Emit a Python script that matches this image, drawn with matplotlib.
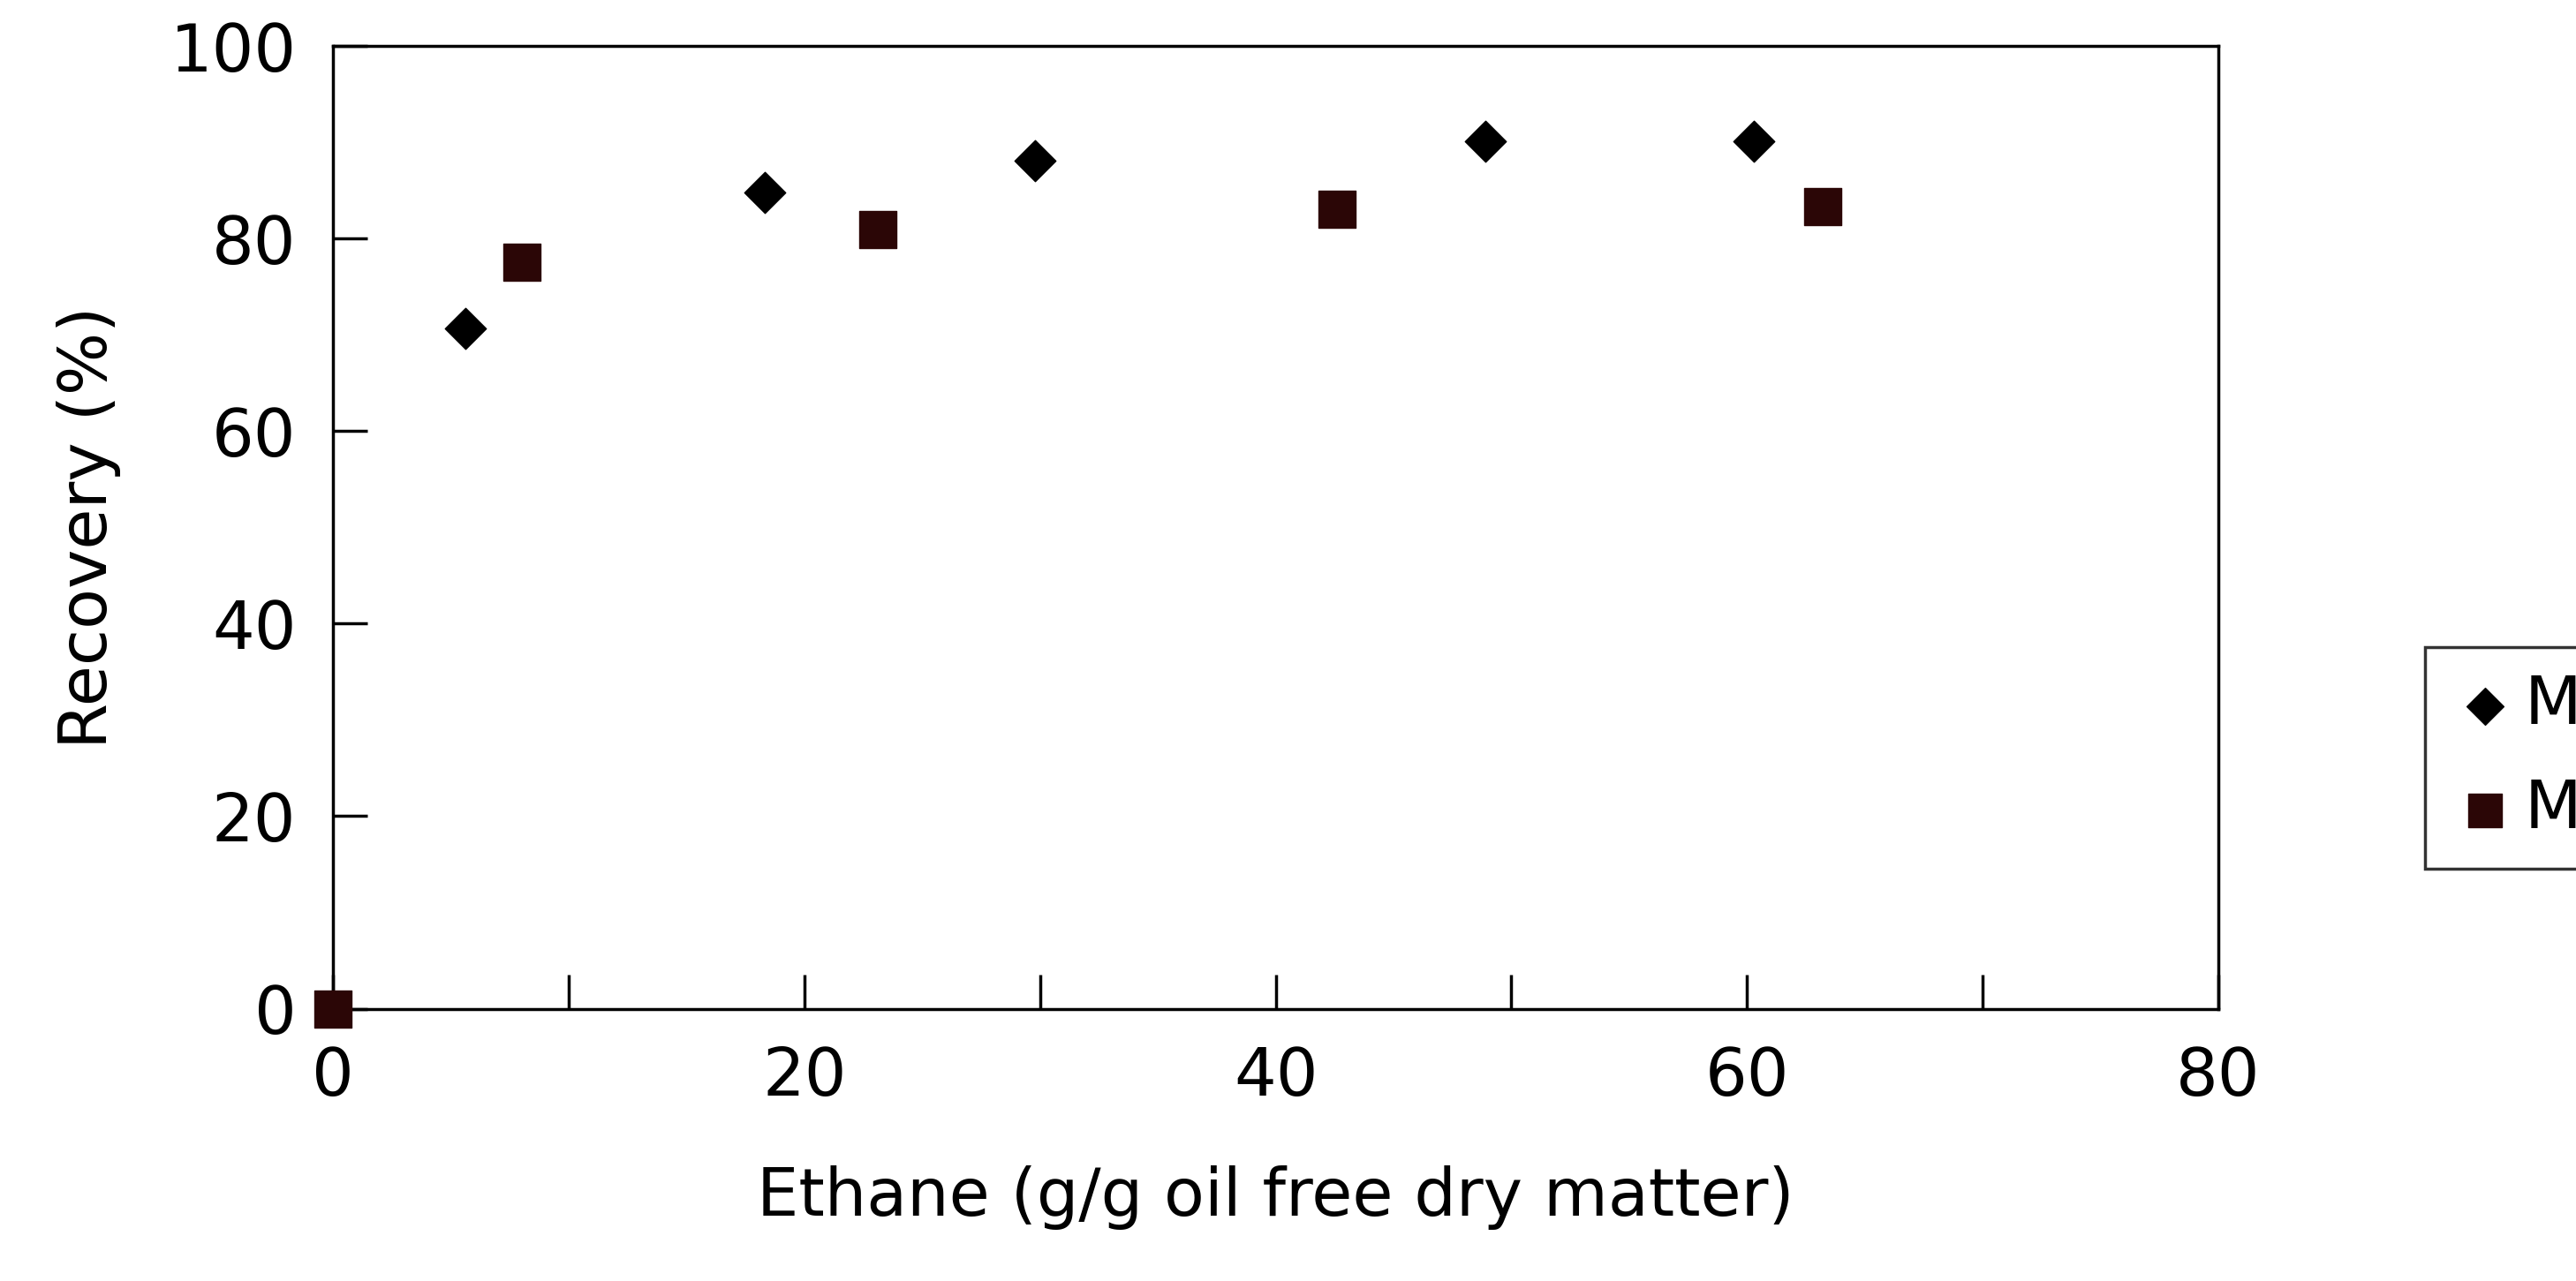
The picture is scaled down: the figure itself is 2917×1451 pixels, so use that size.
import matplotlib
matplotlib.use("Agg")
import matplotlib.pyplot as plt
from matplotlib.ticker import MultipleLocator

m2_x = [5.6, 18.3, 29.8, 48.9, 60.3]
m2_y = [70.7, 84.8, 88.1, 90.1, 90.1]
m1_x = [0.0, 8.0, 23.1, 42.6, 63.2]
m1_y = [0.0, 77.5, 80.9, 83.0, 83.3]

W, H = 1570, 781  # reference layout measured on this scale
fig = plt.figure(figsize=(29.17, 14.51), dpi=100)
ax = fig.add_axes([203/W, 1 - 615/H, (1352-203)/W, (615-28)/H])
ax.scatter(m2_x, m2_y, marker="D", s=560, color="black", label="M2", zorder=3, clip_on=False)
ax.scatter(m1_x, m1_y, marker="s", s=900, color="#2b0606", label="M1", zorder=3, clip_on=False)
ax.set_xlim(0, 80); ax.set_ylim(0, 100)
ax.xaxis.set_major_locator(MultipleLocator(20))
ax.xaxis.set_minor_locator(MultipleLocator(10))
ax.yaxis.set_major_locator(MultipleLocator(20))
ax.tick_params(which="both", direction="in", length=28, width=2.5, labelsize=54, pad=30)
ax.tick_params(top=False, right=False)
for s in ax.spines.values():
    s.set_linewidth(2.5)
ax.set_xlabel("Ethane (g/g oil free dry matter)", fontsize=54, labelpad=45)
ax.set_ylabel("Recovery (%)", fontsize=54, labelpad=40)
leg = fig.legend(loc="center left", bbox_to_anchor=(1478/W, 1 - 462/H), fontsize=54,
                 frameon=True, fancybox=False, handletextpad=0.1, borderpad=0.4,
                 labelspacing=0.6, handlelength=1.0, markerscale=0.9, borderaxespad=0)
leg.get_frame().set_edgecolor("black"); leg.get_frame().set_linewidth(2.5)
fig.savefig("out.png")
